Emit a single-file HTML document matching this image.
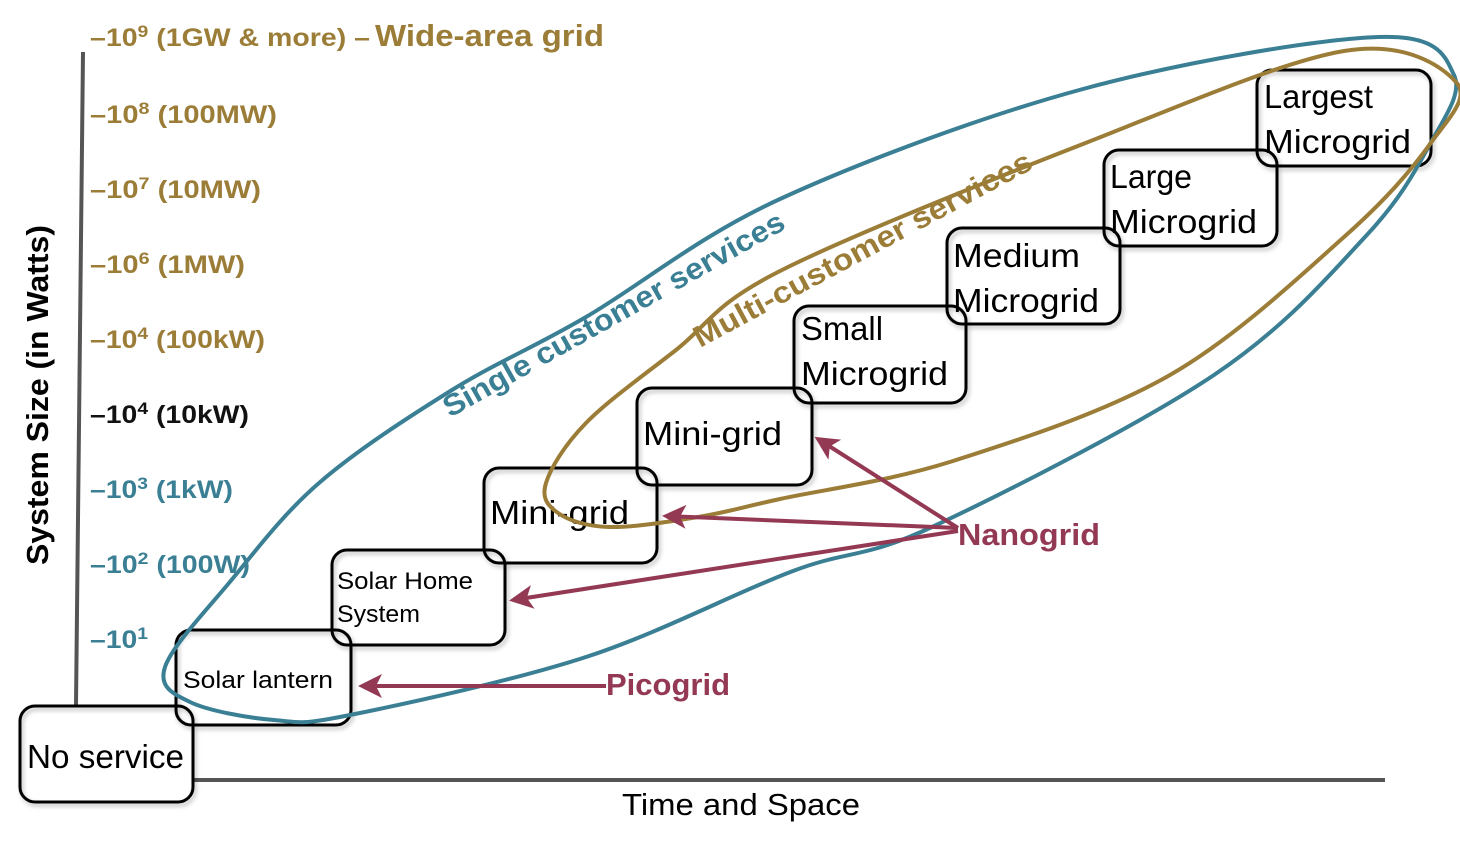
<!DOCTYPE html>
<html><head><meta charset="utf-8"><style>
html,body{margin:0;padding:0;background:#fff;}
svg{display:block;font-family:"Liberation Sans",sans-serif;}
</style></head><body>
<svg width="1460" height="849" viewBox="0 0 1460 849">
<defs>
<marker id="ah" markerWidth="6" markerHeight="6" refX="5" refY="3" orient="auto" markerUnits="strokeWidth"><path d="M0,0 L6,3 L0,6 L1.5,3 z" fill="#943954"/></marker>
<filter id="sh" x="-10%" y="-10%" width="130%" height="130%"><feDropShadow dx="2" dy="3" stdDeviation="2" flood-color="#000" flood-opacity="0.25"/></filter>
</defs>

<g>
<line x1="83" y1="52" x2="76" y2="705" stroke="#555" stroke-width="4"/>
<text x="48" y="395" transform="rotate(-90 48 395)" text-anchor="middle" font-size="31" font-weight="bold" textLength="340" lengthAdjust="spacingAndGlyphs">System Size (in Watts)</text>
</g>
<g>
<line x1="193" y1="780" x2="1385" y2="780" stroke="#555" stroke-width="4"/>
<text x="622" y="815" font-size="31" textLength="238" lengthAdjust="spacingAndGlyphs">Time and Space</text>
</g>

<g font-weight="bold" font-size="25">
<text x="90" y="46" fill="#9b7d38" textLength="280" lengthAdjust="spacingAndGlyphs">–10<tspan font-size="17" dy="-9">9</tspan><tspan dy="9"> (1GW &amp; more) –</tspan></text>
<text x="375" y="46" fill="#9b7d38" font-size="31" textLength="229" lengthAdjust="spacingAndGlyphs">Wide-area grid</text>
<text x="90" y="123" fill="#9b7d38" textLength="187" lengthAdjust="spacingAndGlyphs">–10<tspan font-size="17" dy="-9">8</tspan><tspan dy="9"> (100MW)</tspan></text>
<text x="90" y="198" fill="#9b7d38" textLength="171" lengthAdjust="spacingAndGlyphs">–10<tspan font-size="17" dy="-9">7</tspan><tspan dy="9"> (10MW)</tspan></text>
<text x="90" y="273" fill="#9b7d38" textLength="155" lengthAdjust="spacingAndGlyphs">–10<tspan font-size="17" dy="-9">6</tspan><tspan dy="9"> (1MW)</tspan></text>
<text x="90" y="348" fill="#9b7d38" textLength="175" lengthAdjust="spacingAndGlyphs">–10<tspan font-size="17" dy="-9">4</tspan><tspan dy="9"> (100kW)</tspan></text>
<text x="90" y="423" fill="#111" textLength="159" lengthAdjust="spacingAndGlyphs">–10<tspan font-size="17" dy="-9">4</tspan><tspan dy="9"> (10kW)</tspan></text>
<text x="90" y="498" fill="#3a7f94" textLength="143" lengthAdjust="spacingAndGlyphs">–10<tspan font-size="17" dy="-9">3</tspan><tspan dy="9"> (1kW)</tspan></text>
<text x="90" y="573" fill="#3a7f94" textLength="160" lengthAdjust="spacingAndGlyphs">–10<tspan font-size="17" dy="-9">2</tspan><tspan dy="9"> (100W)</tspan></text>
<text x="90" y="648" fill="#3a7f94" textLength="58" lengthAdjust="spacingAndGlyphs">–10<tspan font-size="17" dy="-9">1</tspan></text>
</g>

<g fill="none" stroke="#000" stroke-width="3" filter="url(#sh)">
<rect x="20" y="706" width="173" height="96" rx="15"/>
<rect x="176" y="630" width="175" height="95" rx="15"/>
<rect x="332" y="550" width="173" height="95" rx="15"/>
<rect x="484" y="468" width="173" height="95" rx="15"/>
<rect x="637" y="388" width="175" height="97" rx="15"/>
<rect x="794" y="306" width="172" height="97" rx="15"/>
<rect x="947" y="228" width="173" height="96" rx="15"/>
<rect x="1104" y="150" width="173" height="96" rx="15"/>
<rect x="1257" y="70" width="174" height="96" rx="15"/>
</g>

<g fill="#000">
<text x="27" y="768" font-size="33" textLength="157" lengthAdjust="spacingAndGlyphs">No service</text>
<text x="183" y="688" font-size="24" textLength="150" lengthAdjust="spacingAndGlyphs">Solar lantern</text>
<text x="337" y="589" font-size="24" textLength="136" lengthAdjust="spacingAndGlyphs">Solar Home</text>
<text x="337" y="622" font-size="24" textLength="83" lengthAdjust="spacingAndGlyphs">System</text>
<text x="490" y="524" font-size="33" textLength="139" lengthAdjust="spacingAndGlyphs">Mini-grid</text>
<text x="643" y="445" font-size="33" textLength="139" lengthAdjust="spacingAndGlyphs">Mini-grid</text>
<text x="801" y="340" font-size="33" textLength="82" lengthAdjust="spacingAndGlyphs">Small</text>
<text x="801" y="385" font-size="33" textLength="147" lengthAdjust="spacingAndGlyphs">Microgrid</text>
<text x="953" y="267" font-size="33" textLength="127" lengthAdjust="spacingAndGlyphs">Medium</text>
<text x="953" y="312" font-size="33" textLength="146" lengthAdjust="spacingAndGlyphs">Microgrid</text>
<text x="1110" y="188" font-size="33" textLength="82" lengthAdjust="spacingAndGlyphs">Large</text>
<text x="1110" y="233" font-size="33" textLength="147" lengthAdjust="spacingAndGlyphs">Microgrid</text>
<text x="1264" y="108" font-size="33" textLength="109" lengthAdjust="spacingAndGlyphs">Largest</text>
<text x="1264" y="153" font-size="33" textLength="147" lengthAdjust="spacingAndGlyphs">Microgrid</text>
</g>

<path id="blueLoop" d="" fill="none" stroke="#3a7f94" stroke-width="4"/>
<path id="goldLoop" d="" fill="none" stroke="#9b7d38" stroke-width="4"/>

<text x="450" y="418" transform="rotate(-29.4 450 418)" font-size="30" font-weight="bold" fill="#3a7f94" textLength="387" lengthAdjust="spacingAndGlyphs">Single customer services</text>
<text x="700" y="348" transform="rotate(-28.3 700 348)" font-size="30" font-weight="bold" fill="#9b7d38" textLength="380" lengthAdjust="spacingAndGlyphs">Multi-customer services</text>

<g stroke="#943954" stroke-width="4" fill="none">
<line x1="606" y1="686" x2="362" y2="686" marker-end="url(#ah)"/>
<line x1="958" y1="528" x2="818" y2="439" marker-end="url(#ah)"/>
<line x1="958" y1="528" x2="666" y2="516" marker-end="url(#ah)"/>
<line x1="958" y1="531" x2="513" y2="600" marker-end="url(#ah)"/>
</g>
<text x="606" y="695" font-size="31" font-weight="bold" fill="#943954" textLength="124" lengthAdjust="spacingAndGlyphs">Picogrid</text>
<text x="958" y="545" font-size="31" font-weight="bold" fill="#943954" textLength="142" lengthAdjust="spacingAndGlyphs">Nanogrid</text>
</svg>
<script>
function loop(p){
  var n=p.length,d='M'+p[0][0]+','+p[0][1];
  for(var i=0;i<n;i++){
    var p0=p[(i-1+n)%n],p1=p[i],p2=p[(i+1)%n],p3=p[(i+2)%n];
    var c1=[p1[0]+(p2[0]-p0[0])/6,p1[1]+(p2[1]-p0[1])/6];
    var c2=[p2[0]-(p3[0]-p1[0])/6,p2[1]-(p3[1]-p1[1])/6];
    d+=' C'+c1[0]+','+c1[1]+' '+c2[0]+','+c2[1]+' '+p2[0]+','+p2[1];
  }
  return d+'Z';
}
var bluePts=[[165,667],[229,583],[319,483],[452,390],[586,317],[780,199],[1083,89],[1378,37],[1454,75],[1430,144],[1365,237],[1214,375],[932,527],[793,571],[586,657],[350,715],[274,720],[190,702]];
var goldPts=[[546,483],[586,423],[676,350],[780,271],[1083,144],[1344,51],[1456,82],[1430,144],[1344,237],[1170,375],[953,461],[780,499],[698,517],[609,527],[558,513]];
document.getElementById('blueLoop').setAttribute('d',loop(bluePts));
document.getElementById('goldLoop').setAttribute('d',loop(goldPts));
</script>
</body></html>
